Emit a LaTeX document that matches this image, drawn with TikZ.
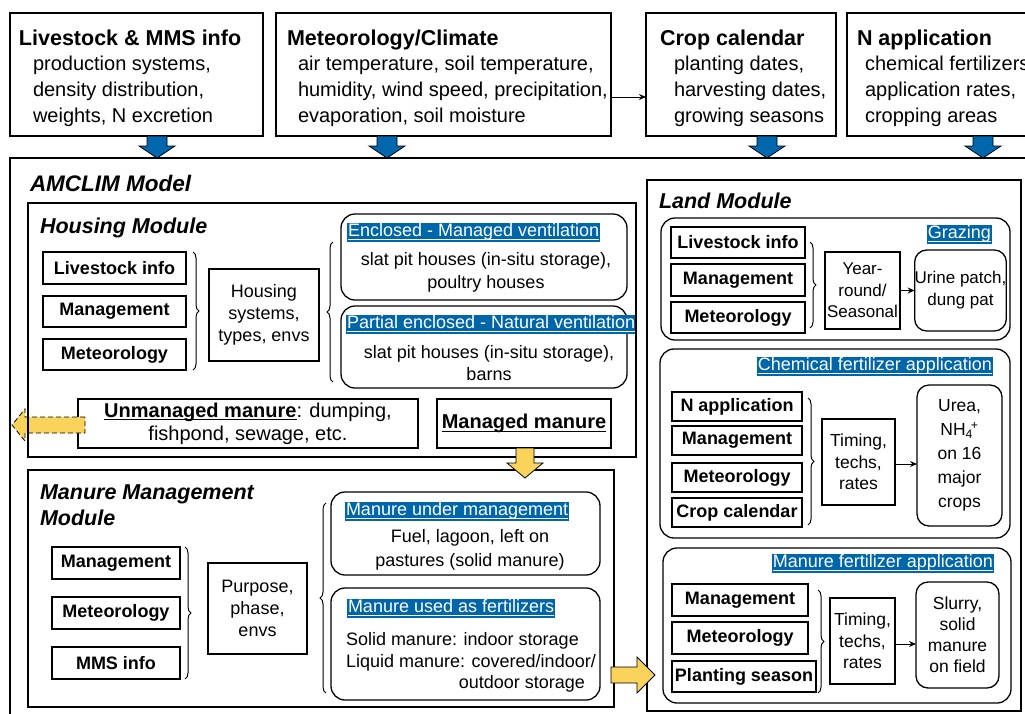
\documentclass[tikz,border=0pt]{standalone}
\usepackage{fontspec}
\setmainfont{Liberation Sans}
\usetikzlibrary{decorations.pathreplacing,arrows.meta}
\definecolor{hlblue}{RGB}{0,102,170}
\definecolor{arrblue}{RGB}{0,103,172}
\definecolor{ayel}{RGB}{250,211,90}
\newsavebox{\ulxbox}
\newcommand{\ulx}[1]{\sbox{\ulxbox}{#1}\rlap{\rule[-3pt]{\wd\ulxbox}{1pt}}\usebox{\ulxbox}}
\newcommand{\fsz}[2]{\fontsize{#1}{#2}\selectfont}
\newcommand{\boxnode}[7]{\node[#1, minimum width={#5-#3}, minimum height={#6-#4}] (#2) at ({(#3+#5)/2},{(#4+#6)/2}) {#7};}
\newcommand{\arrdown}[7]{\filldraw[#1] (#2-#5,#3) -- (#2+#5,#3) -- (#2+#5,#4-#7) -- (#2+#6,#4-#7) -- (#2,#4) -- (#2-#6,#4-#7) -- (#2-#5,#4-#7) -- cycle;}
\newcommand{\arrh}[7]{\filldraw[#1] (#3,#2-#6) -- (#4,#2-#6) -- (#4,#2-#7) -- (#5,#2) -- (#4,#2+#7) -- (#4,#2+#6) -- (#3,#2+#6) -- cycle;}
\begin{document}
\begin{tikzpicture}[x=1pt,y=-1pt,
  every node/.style={inner sep=0pt,outer sep=0pt},
  frame/.style={draw,line width=1.5pt},
  sbox/.style={draw,line width=1.3pt,font=\bfseries\fsz{18}{21}},
  tbox/.style={draw,line width=1.3pt,align=center},
  rbox/.style={draw,line width=1.3pt,rounded corners=14pt,align=center},
  lbl/.style={fill=hlblue,text=white,font=\fsz{18}{21},inner xsep=1pt,text height=13.5pt,text depth=5pt},
  brc/.style={decorate,decoration={brace,amplitude=6pt},line width=1pt},
  conn/.style={-{Stealth[length=7pt,width=6pt]},line width=1pt},
  mtitle/.style={font=\bfseries\itshape\fsz{21.5}{26},anchor=base west},
  ttitle/.style={font=\bfseries\fsz{21.5}{26},anchor=base west},
  tbody/.style={font=\fsz{20}{26},anchor=base west},
  blk/.style={fill=arrblue,draw=black,line width=0.8pt},
  yblk/.style={fill=ayel,draw=black,line width=0.8pt},
]
\useasboundingbox (0,0) rectangle (1025,713);

% ---------- top input boxes ----------
\boxnode{frame}{tLive}{10}{13}{263}{136}{}
\node[ttitle] (tLiveT) at (19,45) {Livestock \& MMS info};
\node[tbody] (tLive1) at (33,70) {production systems,};
\node[tbody] (tLive2) at (33,96) {density distribution,};
\node[tbody] (tLive3) at (33,122) {weights, N excretion};

\boxnode{frame}{tMet}{276}{13}{611}{136}{}
\node[ttitle] (tMetT) at (287,45) {Meteorology/Climate};
\node[tbody] (tMet1) at (298,70) {air temperature, soil temperature,};
\node[tbody] (tMet2) at (298,96) {humidity, wind speed, precipitation,};
\node[tbody] (tMet3) at (298,122) {evaporation, soil moisture};

\boxnode{frame}{tCrop}{646}{13}{836}{136}{}
\node[ttitle] (tCropT) at (660,45) {Crop calendar};
\node[tbody] (tCrop1) at (674,70) {planting dates,};
\node[tbody] (tCrop2) at (674,96) {harvesting dates,};
\node[tbody] (tCrop3) at (674,122) {growing seasons};

\boxnode{frame}{tN}{847}{13}{1045}{136}{}
\node[ttitle] (tNT) at (857,45) {N application};
\node[tbody] (tN1) at (865,70) {chemical fertilizers,};
\node[tbody] (tN2) at (865,96) {application rates,};
\node[tbody] (tN3) at (865,122) {cropping areas};

\draw[conn] ([yshift=-22.5pt]tMet.east) -- ([yshift=-22.5pt]tCrop.west);

% ---------- main model box ----------
\boxnode{frame}{amclim}{10}{158}{1045}{730}{}
\node[mtitle,font=\bfseries\itshape\fsz{22.5}{26}] (amT) at (30,191) {AMCLIM Model};

\arrdown{blk}{157}{136}{158}{10}{18}{12}
\arrdown{blk}{387}{136}{158}{10}{18}{12}
\arrdown{blk}{767}{136}{158}{10}{18}{12}
\arrdown{blk}{983}{136}{158}{10}{18}{12}

% ---------- Housing module ----------
\node[mtitle] (hT) at (40,233) {Housing Module};
\boxnode{sbox}{hLive}{43}{252}{186}{284}{Livestock info}
\boxnode{sbox}{hMan}{43}{296}{186}{327}{Management}
\boxnode{sbox}{hMet}{43}{339}{186}{370}{Meteorology}
\draw[brc] (193,252) -- (193,370);
\boxnode{tbox,font=\fsz{18}{22}}{hSys}{209}{269}{319}{361}{Housing\\systems,\\types, envs}
\draw[brc] (333,382) -- (333,242);
\boxnode{rbox}{hEnc}{341}{214}{627}{300}{}
\node[lbl,anchor=north west] (hEncL) at (347,223) {\ulx{Enclosed - Managed ventilation}};
\node[align=center,font=\fsz{18}{23}] (hEncB) at (486,272) {slat pit houses (in-situ storage),\\poultry houses};
\boxnode{rbox}{hPar}{341}{306}{627}{388}{}
\node[lbl,anchor=north west] (hParL) at (346,315) {\ulx{Partial enclosed - Natural ventilation}};
\node[align=center,font=\fsz{18}{22}] (hParB) at (489,363.5) {slat pit houses (in-situ storage),\\barns};
\boxnode{tbox,font=\fsz{20}{23}}{hUnm}{78}{399}{418}{448}{\textbf{\ulx{Unmanaged manure}}: dumping,\\fishpond, sewage, etc.}
\boxnode{tbox,font=\bfseries\fsz{20}{23}}{hMgd}{437}{399}{611}{448}{\ulx{Managed manure}}
\arrh{yblk,dash pattern=on 5pt off 3pt}{425}{85}{25}{12}{8}{16}
\boxnode{frame}{housing}{28}{203}{636}{457}{}

% ---------- Manure management module ----------
\boxnode{frame}{mmm}{28}{470}{614}{707}{}
\node[mtitle] (mmT1) at (40,499) {Manure Management};
\node[mtitle] (mmT2) at (40,525) {Module};
\boxnode{sbox}{mmMan}{52}{547}{180}{579}{Management}
\boxnode{sbox}{mmMet}{52}{597}{180}{629}{Meteorology}
\boxnode{sbox}{mmMMS}{52}{647}{180}{679}{MMS info}
\draw[brc] (185,547) -- (185,679);
\boxnode{tbox,font=\fsz{18}{22}}{mmPur}{208}{563}{307}{654}{Purpose,\\phase,\\envs}
\draw[brc] (326,693) -- (326,503);
\boxnode{rbox}{mmUnd}{331}{492}{600}{575}{}
\node[lbl,anchor=north west] (mmUndL) at (345,502) {\ulx{Manure under management}};
\node[align=center,font=\fsz{18}{24}] (mmUndB) at (470,550) {Fuel, lagoon, left on\\pastures (solid manure)};
\boxnode{rbox}{mmUse}{331}{588}{600}{700}{}
\node[lbl,anchor=north west] (mmUseL) at (347,599) {\ulx{Manure used as fertilizers}};
\node[anchor=base west,font=\fsz{18}{22}] (mmUse1) at (346,645) {Solid manure: indoor storage};
\node[anchor=base west,font=\fsz{18}{22}] (mmUse2) at (346,667) {Liquid manure: covered/indoor/};
\node[anchor=base east,font=\fsz{18}{22}] (mmUse3) at (585,688) {outdoor storage};

% ---------- Land module ----------
\boxnode{frame}{land}{647}{180}{1021}{711}{}
\node[mtitle] (lT) at (659,208) {Land Module};
% grazing
\boxnode{rbox}{graz}{661}{218}{1010}{340}{}
\node[lbl,anchor=north east] (grazL) at (992,225) {\ulx{Grazing}};
\boxnode{sbox}{gLive}{671}{227}{805}{258}{Livestock info}
\boxnode{sbox}{gMan}{671}{264}{805}{296}{Management}
\boxnode{sbox}{gMet}{671}{302}{805}{333}{Meteorology}
\draw[brc] (810,242) -- (810,328);
\boxnode{tbox,font=\fsz{17}{21.5}}{gYear}{825}{252}{900}{329}{Year-\\round/\\Seasonal}
\boxnode{rbox,rounded corners=12pt,font=\fsz{17}{22}}{gUrine}{915}{250}{1006}{331}{Urine patch,\\dung pat}
\draw[conn] (gYear.east) -- (gUrine.west);
% chemical fertilizer
\boxnode{rbox}{chem}{660}{349}{1010}{538}{}
\node[lbl,anchor=north east] (chemL) at (993,357) {\ulx{Chemical fertilizer application}};
\boxnode{sbox}{cN}{672}{392}{802}{421}{N application}
\boxnode{sbox}{cMan}{672}{426}{802}{455}{Management}
\boxnode{sbox}{cMet}{672}{463}{802}{492}{Meteorology}
\boxnode{sbox}{cCrop}{672}{498}{802}{527}{Crop calendar}
\draw[brc] (808,398) -- (808,525);
\boxnode{tbox,font=\fsz{17.5}{21.5}}{cTim}{822}{419}{895}{505}{Timing,\\techs,\\rates}
\boxnode{rbox,rounded corners=12pt,font=\fsz{17.5}{24}}{cUrea}{917}{385}{1002}{526}{Urea,\\NH\textsubscript{4}\kern-0.12em\textsuperscript{+}\\on 16\\major\\crops}
\draw[conn] ([yshift=-2pt]cTim.east) -- ([yshift=-2pt]cTim.east -| cUrea.west);
% manure fertilizer
\boxnode{rbox}{manf}{663}{548}{1011}{703}{}
\node[lbl,anchor=north east] (manfL) at (994,554) {\ulx{Manure fertilizer application}};
\boxnode{sbox}{fMan}{672}{584}{808}{616}{Management}
\boxnode{sbox}{fMet}{672}{622}{808}{654}{Meteorology}
\boxnode{sbox}{fPlant}{672}{661}{816}{692}{Planting season}
\draw[brc] (818,590) -- (818,693);
\boxnode{tbox,font=\fsz{17.5}{21.5}}{fTim}{830}{598}{895}{684}{Timing,\\techs,\\rates}
\boxnode{rbox,rounded corners=12pt,font=\fsz{17.5}{21}}{fSl}{916}{582}{999}{688}{Slurry,\\solid\\manure\\on field}
\draw[conn] ([yshift=-3pt]fTim.east) -- ([yshift=-3pt]fTim.east -| fSl.west);

% ---------- yellow flow arrows ----------
\arrdown{yblk}{525}{448}{478}{9}{18}{15}
\arrh{yblk}{675}{611}{637}{655}{8}{18}
\end{tikzpicture}
\end{document}
